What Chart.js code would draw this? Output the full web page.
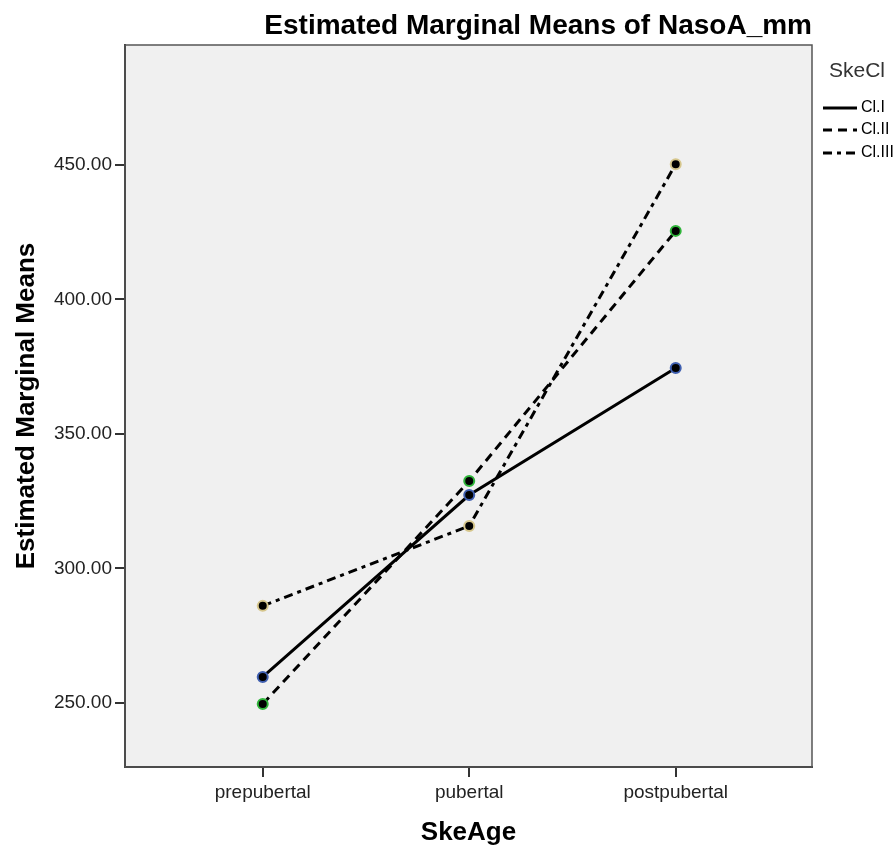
<!DOCTYPE html>
<html>
<head>
<meta charset="utf-8">
<script src="https://cdn.jsdelivr.net/npm/chart.js@4.4.1/dist/chart.umd.min.js"></script>
<style>
  html, body { margin: 0; padding: 0; background: #ffffff; }
  #wrap { width: 896px; height: 848px; }
</style>
</head>
<body>
<div id="wrap"><canvas id="c" width="896" height="848"></canvas></div>
<script>
// Skeletal age groups on the x axis
const ageGroups = ['prepubertal', 'pubertal', 'postpubertal'];
// Skeletal class series
const classLabels = ['Cl.I', 'Cl.II', 'Cl.III'];
const meansClI   = [259.7, 327.3, 374.5];
const meansClII  = [249.6, 332.5, 425.5];
const meansClIII = [286.1, 315.8, 450.3];
const yTicks = [250, 300, 350, 400, 450];

const FONT = "'Liberation Sans', Arial, sans-serif";

const toPoints = arr => arr.map((v, i) => ({ x: i, y: v }));

const seriesStyle = [
  { dash: [], marker: '#3f5fb0' },
  { dash: [9, 6], marker: '#2fb53a' },
  { dash: [9, 5, 4, 5], marker: '#d6c68c' }
];
const seriesData = [meansClI, meansClII, meansClIII];

const datasets = seriesData.map((d, i) => ({
  label: classLabels[i],
  data: toPoints(d),
  borderColor: '#000000',
  borderWidth: 3,
  borderDash: seriesStyle[i].dash,
  pointRadius: 5,
  pointHoverRadius: 5,
  pointBorderWidth: 2,
  pointBackgroundColor: '#000000',
  pointBorderColor: seriesStyle[i].marker,
  tension: 0,
  fill: false
}));

// Plot background, frame, chart title and the SkeCl key
const framePlugin = {
  id: 'frame',
  beforeDraw(chart) {
    const { ctx, chartArea: a } = chart;
    ctx.save();
    ctx.fillStyle = '#f0f0f0';
    ctx.fillRect(a.left, a.top, a.right - a.left, a.bottom - a.top);
    ctx.restore();
  },
  afterDraw(chart) {
    const { ctx, chartArea: a } = chart;
    ctx.save();
    ctx.strokeStyle = '#555555';
    ctx.lineWidth = 1.5;
    ctx.strokeRect(a.left, a.top, a.right - a.left, a.bottom - a.top);

    // title
    ctx.fillStyle = '#000000';
    ctx.font = "bold 28px " + FONT;
    ctx.textAlign = 'right';
    ctx.textBaseline = 'middle';
    ctx.fillText('Estimated Marginal Means of NasoA_mm', a.right, 26);

    // key
    const kx = a.right + 11;
    ctx.textAlign = 'left';
    ctx.fillStyle = '#333333';
    ctx.font = "21px " + FONT;
    ctx.fillText('SkeCl', kx + 6, 71);
    const rows = [108, 130, 153];
    chart.data.datasets.forEach((ds, i) => {
      ctx.beginPath();
      ctx.setLineDash(ds.borderDash || []);
      ctx.lineWidth = 3;
      ctx.strokeStyle = '#000000';
      ctx.moveTo(kx, rows[i]);
      ctx.lineTo(kx + 34, rows[i]);
      ctx.stroke();
      ctx.setLineDash([]);
      ctx.fillStyle = '#000000';
      ctx.font = "16px " + FONT;
      ctx.fillText(ds.label, kx + 38, rows[i]);
    });
    ctx.restore();
  }
};

new Chart(document.getElementById('c'), {
  type: 'line',
  data: { datasets },
  options: {
    responsive: false,
    devicePixelRatio: 1,
    animation: false,
    events: [],
    layout: { padding: { top: 45, right: 84, left: 0, bottom: 0 } },
    plugins: { legend: { display: false }, tooltip: { enabled: false }, title: { display: false } },
    scales: {
      x: {
        type: 'linear',
        min: -0.667,
        max: 2.66,
        afterBuildTicks: s => { s.ticks = ageGroups.map((_, i) => ({ value: i })); },
        afterFit: s => { s.height = 81; },
        ticks: {
          callback: v => ageGroups[v],
          font: { family: FONT, size: 19 },
          color: '#222222',
          padding: 4,
          maxRotation: 0
        },
        grid: { display: true, drawOnChartArea: false, drawTicks: true, tickLength: 10, color: '#333333', lineWidth: 2 },
        border: { display: true, color: '#333333', width: 2 },
        title: {
          display: true,
          text: 'SkeAge',
          font: { family: FONT, size: 26, weight: 'bold' },
          color: '#000000',
          padding: { top: 0, bottom: 0 }
        }
      },
      y: {
        type: 'linear',
        min: 226.2,
        max: 494.6,
        afterBuildTicks: s => { s.ticks = yTicks.map(v => ({ value: v })); },
        afterFit: s => { s.width = 125; },
        ticks: {
          callback: v => Number(v).toFixed(2),
          font: { family: FONT, size: 19 },
          color: '#222222',
          padding: 3
        },
        grid: { display: true, drawOnChartArea: false, drawTicks: true, tickLength: 10, color: '#333333', lineWidth: 2 },
        border: { display: true, color: '#333333', width: 2 },
        title: {
          display: true,
          text: 'Estimated Marginal Means',
          font: { family: FONT, size: 26, weight: 'bold' },
          color: '#000000',
          padding: { top: 11, bottom: 0 }
        }
      }
    }
  },
  plugins: [framePlugin]
});
</script>
</body>
</html>
